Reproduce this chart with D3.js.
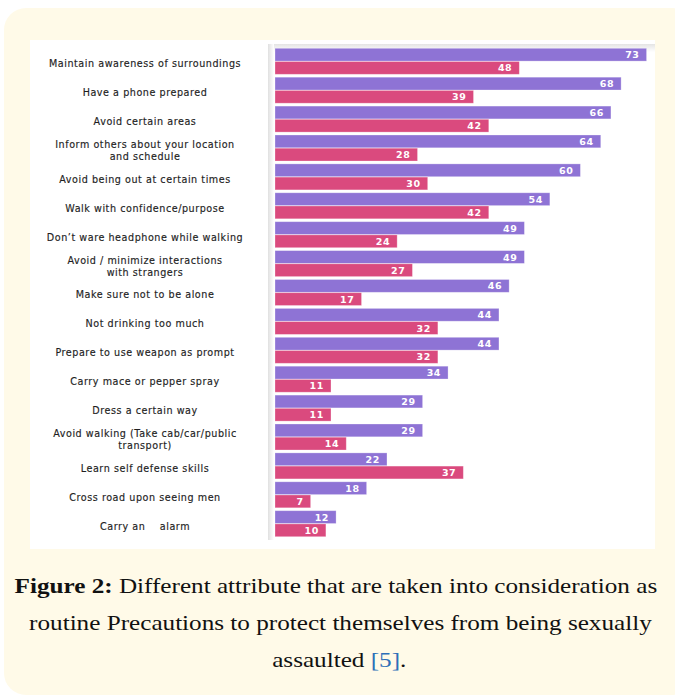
<!DOCTYPE html>
<html><head><meta charset="utf-8">
<script src="https://cdnjs.cloudflare.com/ajax/libs/d3/7.8.5/d3.min.js"></script>
<style>html,body{margin:0;padding:0;background:#fff;}</style>
</head><body>
<script>
const categories = [
  ["Maintain awareness of surroundings"],
  ["Have a phone prepared"],
  ["Avoid certain areas"],
  ["Inform others about your location", "and schedule"],
  ["Avoid being out at certain times"],
  ["Walk with confidence/purpose"],
  ["Don\u2019t ware headphone while walking"],
  ["Avoid / minimize interactions", "with strangers"],
  ["Make sure not to be alone"],
  ["Not drinking too much"],
  ["Prepare to use weapon as prompt"],
  ["Carry mace or pepper spray"],
  ["Dress a certain way"],
  ["Avoid walking (Take cab/car/public", "transport)"],
  ["Learn self defense skills"],
  ["Cross road upon seeing men"],
  ["Carry an    alarm"]
];
const seriesA = [73, 68, 66, 64, 60, 54, 49, 49, 46, 44, 44, 34, 29, 29, 22, 18, 12];
const seriesB = [48, 39, 42, 28, 30, 42, 24, 27, 17, 32, 32, 11, 11, 14, 37, 7, 10];
const seriesNames = ["A", "B"];
const captionBold = "Figure 2:";
const captionLines = [
  " Different attribute that are taken into consideration as",
  "routine Precautions to protect themselves from being sexually",
  "assaulted "
];
const captionRef = "[5]";

const W = 675, H = 698;
const svg = d3.select("body").append("svg").attr("width", W).attr("height", H)
  .style("display", "block");

// cream card
svg.append("rect").attr("x", 4).attr("y", 8).attr("width", 690).attr("height", 687)
  .attr("rx", 22).attr("fill", "#fffae8");
// white panel
svg.append("rect").attr("x", 30).attr("y", 40).attr("width", 625).attr("height", 509)
  .attr("fill", "#ffffff");

// subtle plot frame shadow
const defs = svg.append("defs");
const gTop = defs.append("linearGradient").attr("id", "gt").attr("x1", 0).attr("y1", 0).attr("x2", 0).attr("y2", 1);
gTop.append("stop").attr("offset", 0).attr("stop-color", "#e4e4e4");
gTop.append("stop").attr("offset", 1).attr("stop-color", "#ffffff");
svg.append("rect").attr("x", 268).attr("y", 44).attr("width", 387).attr("height", 8).attr("fill", "url(#gt)");
const gL = defs.append("linearGradient").attr("id", "gl").attr("x1", 0).attr("y1", 0).attr("x2", 1).attr("y2", 0);
gL.append("stop").attr("offset", 0).attr("stop-color", "#e0e0e0");
gL.append("stop").attr("offset", 1).attr("stop-color", "#ffffff");
svg.append("rect").attr("x", 268).attr("y", 44).attr("width", 6).attr("height", 496).attr("fill", "url(#gl)");

const x = d3.scaleLinear().domain([0, 100]).range([275, 784]);
const y = d3.scaleBand().domain(d3.range(categories.length)).range([45.4, 539.6])
  .paddingInner(0.1).paddingOuter(0.1);
const ySub = d3.scaleBand().domain(seriesNames).range([0, y.bandwidth()]).paddingInner(0.03);
const color = d3.scaleOrdinal().domain(seriesNames).range(["#8e73d5", "#da4a7e"]);

const rows = categories.map((c, i) => ({i, label: c, vals: [
  {k: "A", v: seriesA[i]}, {k: "B", v: seriesB[i]}]}));

const g = svg.append("g");
const grp = g.selectAll("g.row").data(rows).join("g").attr("class", "row")
  .attr("transform", d => `translate(0,${y(d.i)})`);

grp.selectAll("rect").data(d => d.vals).join("rect")
  .attr("x", x(0)).attr("y", d => ySub(d.k))
  .attr("width", d => x(d.v) - x(0)).attr("height", ySub.bandwidth())
  .attr("fill", d => color(d.k))
  .attr("stroke", "#ffffff").attr("stroke-opacity", 0.35).attr("stroke-width", 0.8);

grp.selectAll("text.val").data(d => d.vals).join("text").attr("class", "val")
  .attr("x", d => x(d.v) - 7).attr("y", d => ySub(d.k) + ySub.bandwidth() / 2 + 3.6)
  .attr("text-anchor", "end").attr("fill", "#ffffff")
  .attr("font-family", "'DejaVu Sans', Verdana, sans-serif").attr("font-weight", "bold")
  .attr("font-size", 9.5).attr("letter-spacing", 0.6)
  .text(d => d.v);

// category labels
const lab = grp.append("text")
  .attr("font-family", "'DejaVu Sans', Verdana, sans-serif").attr("font-size", 9.6)
  .attr("letter-spacing", 0.55)
  .attr("fill", "#1e1e1e").attr("stroke", "#1e1e1e").attr("stroke-width", 0.15)
  .attr("text-anchor", "middle");
lab.each(function(d) {
  const t = d3.select(this);
  const n = d.label.length;
  const cy = y.bandwidth() / 2 + 3 + 3;
  d.label.forEach((line, j) => {
    t.append("tspan").attr("x", 145).attr("y", cy + (j - (n - 1) / 2) * 12)
      .style("white-space", "pre").text(line);
  });
});

// caption
const cap = svg.append("g").attr("font-family", "'Liberation Serif', 'DejaVu Serif', serif")
  .attr("fill", "#111").attr("text-anchor", "middle")
  .attr("transform", "translate(337,0) scale(1.145,1) translate(-337,0)");
const fs = 22;
const t1 = cap.append("text").attr("x", 336).attr("y", 593).attr("font-size", fs)
  .style("white-space", "pre");
t1.append("tspan").attr("font-weight", "bold").text(captionBold);
t1.append("tspan").text(captionLines[0]);
cap.append("text").attr("x", 340).attr("y", 630).attr("font-size", fs).text(captionLines[1]);
const t3 = cap.append("text").attr("x", 339).attr("y", 667).attr("font-size", fs)
  .style("white-space", "pre");
t3.append("tspan").text(captionLines[2]);
t3.append("tspan").attr("fill", "#2d6fb8").text(captionRef);
t3.append("tspan").text(".");
</script>
</body></html>
